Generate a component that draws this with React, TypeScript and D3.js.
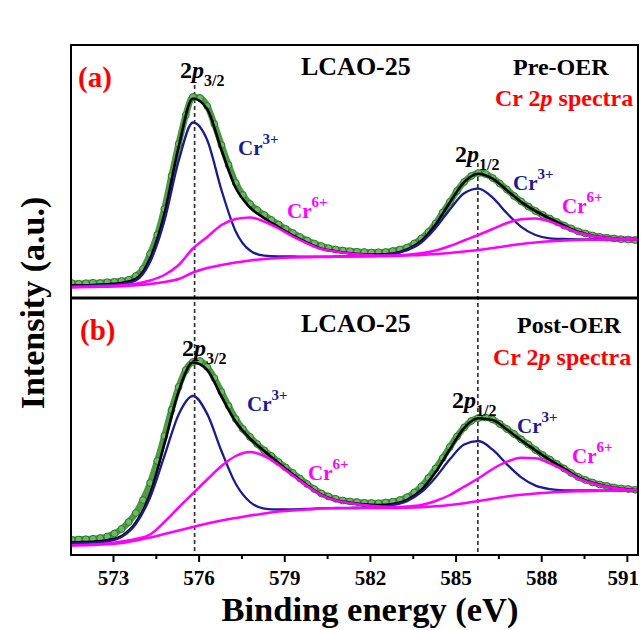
import React, { useEffect, useRef } from "react";
import * as d3 from "d3";

// binding energy grid of the fitted curves (eV)
const fitEnergy = [
  571.3, 571.8, 572.3, 572.8, 573.3, 573.8, 574.3, 574.8, 575.3, 575.8, 576.3, 576.8, 577.3, 577.8,
  578.3, 578.8, 579.3, 579.8, 580.3, 580.8, 581.3, 581.8, 582.3, 582.8, 583.3, 583.8, 584.3, 584.8,
  585.3, 585.8, 586.3, 586.8, 587.3, 587.8, 588.3, 588.8, 589.3, 589.8, 590.3, 590.8, 591.3, 591.8,
];

// (a) Pre-OER fit
const preBackground = [
  1.05, 1.07, 1.1, 1.13, 1.18, 1.27, 1.4, 1.6, 1.9, 2.55, 3.0, 3.3, 3.55, 3.75,
  3.9, 4.0, 4.05, 4.08, 4.1, 4.12, 4.14, 4.15, 4.17, 4.2, 4.25, 4.3, 4.4, 4.5,
  4.65, 4.8, 5.0, 5.2, 5.4, 5.55, 5.67, 5.75, 5.8, 5.83, 5.85, 5.87, 5.88, 5.9,
];
const preCr3 = [
  1.2, 1.22, 1.25, 1.3, 1.4, 1.75, 3.6, 7.7, 13.7, 17.55, 15.8, 10.8, 6.65, 4.75,
  4.23, 4.16, 4.15, 4.13, 4.13, 4.15, 4.17, 4.19, 4.27, 4.4, 4.77, 5.55, 7.0, 8.85,
  10.48, 10.93, 10.03, 8.47, 7.12, 6.3, 5.97, 5.9, 5.87, 5.86, 5.87, 5.88, 5.89, 5.9,
];
const preCr6 = [
  1.1, 1.12, 1.15, 1.2, 1.28, 1.42, 1.75, 2.3, 3.3, 4.95, 6.1, 7.3, 7.9, 8.05,
  7.65, 6.95, 6.15, 5.47, 4.9, 4.65, 4.45, 4.32, 4.25, 4.24, 4.33, 4.47, 4.75, 5.2,
  5.75, 6.3, 6.9, 7.5, 7.87, 7.95, 7.65, 7.1, 6.55, 6.2, 6.0, 5.9, 5.87, 5.87,
];
const preEnvelope = [
  1.25, 1.27, 1.3, 1.37, 1.5, 1.9, 3.95, 8.4, 15.1, 19.95, 18.9, 14.8, 11.0, 9.05,
  7.98, 7.1, 6.25, 5.53, 4.93, 4.68, 4.48, 4.36, 4.35, 4.44, 4.85, 5.72, 7.35, 9.55,
  11.58, 12.43, 11.93, 10.77, 9.59, 8.7, 7.95, 7.25, 6.62, 6.23, 6.02, 5.9, 5.89, 5.9,
];

// (b) Post-OER fit
const postBackground = [
  0.95, 0.97, 1.0, 1.07, 1.2, 1.45, 1.75, 2.1, 2.45, 2.8, 3.15, 3.45, 3.7, 3.95,
  4.15, 4.35, 4.45, 4.54, 4.65, 4.67, 4.68, 4.69, 4.69, 4.7, 4.72, 4.78, 4.87, 5.0,
  5.18, 5.4, 5.63, 5.85, 6.02, 6.15, 6.25, 6.32, 6.37, 6.4, 6.42, 6.44, 6.45, 6.45,
];
const postCr3 = [
  1.15, 1.18, 1.22, 1.35, 1.8, 3.1, 5.75, 9.88, 14.05, 15.9, 14.11, 10.4, 7.12, 5.3,
  4.64, 4.55, 4.57, 4.62, 4.68, 4.7, 4.72, 4.75, 4.82, 4.99, 5.39, 6.28, 7.76, 9.57,
  11.05, 11.4, 10.53, 9.07, 7.76, 6.94, 6.59, 6.47, 6.46, 6.45, 6.44, 6.45, 6.46, 6.46,
];
const postCr6 = [
  0.97, 1.0, 1.05, 1.15, 1.35, 1.6, 2.05, 3.3, 4.75, 6.15, 7.55, 8.9, 9.9, 10.3,
  9.9, 9.0, 7.95, 6.9, 6.0, 5.45, 5.2, 5.0, 4.87, 4.8, 4.85, 5.0, 5.4, 6.0,
  6.83, 7.67, 8.6, 9.33, 9.73, 9.67, 9.17, 8.5, 7.67, 7.17, 6.83, 6.6, 6.5, 6.48,
];
const postEnvelope = [
  1.25, 1.28, 1.33, 1.48, 1.9, 3.25, 6.1, 11.08, 16.35, 19.25, 18.51, 15.85, 13.32, 11.65,
  10.39, 9.2, 8.07, 6.98, 6.03, 5.48, 5.24, 5.06, 5.0, 5.09, 5.52, 6.5, 8.29, 10.57,
  12.7, 13.67, 13.5, 12.55, 11.47, 10.46, 9.51, 8.65, 7.76, 7.22, 6.86, 6.62, 6.5, 6.48,
];

// measured points
const dataEnergy = [
  571.3, 571.55, 571.8, 572.05, 572.3, 572.55, 572.8, 573.05, 573.3, 573.55, 573.8,
  574.05, 574.3, 574.55, 574.8, 575.05, 575.3, 575.55, 575.8, 576.05, 576.3, 576.55, 576.8,
  577.05, 577.3, 577.55, 577.8, 578.05, 578.3, 578.55, 578.8, 579.05, 579.3, 579.55, 579.8,
  580.05, 580.3, 580.55, 580.8, 581.05, 581.3, 581.55, 581.8, 582.05, 582.3, 582.55, 582.8,
  583.05, 583.3, 583.55, 583.8, 584.05, 584.3, 584.55, 584.8, 585.05, 585.3, 585.55, 585.8,
  586.05, 586.3, 586.55, 586.8, 587.05, 587.3, 587.55, 587.8, 588.05, 588.3, 588.55, 588.8,
  589.05, 589.3, 589.55, 589.8, 590.05, 590.3, 590.55, 590.8, 591.05, 591.3, 591.55, 591.8,
];
const preData = [
  1.45, 1.5, 1.42, 1.48, 1.52, 1.5, 1.58, 1.62, 1.7, 1.82, 2.2,
  2.9, 4.4, 6.3, 8.9, 12.2, 15.4, 18.3, 20.1, 20.0, 19.2, 17.4, 15.3,
  13.3, 11.5, 10.3, 9.4, 8.8, 8.3, 7.8, 7.35, 6.9, 6.5, 6.1, 5.75,
  5.45, 5.2, 4.98, 4.85, 4.75, 4.68, 4.62, 4.6, 4.55, 4.58, 4.6, 4.7,
  4.85, 5.05, 5.45, 5.95, 6.6, 7.45, 8.55, 9.6, 10.7, 11.6, 12.2, 12.5,
  12.4, 12.0, 11.45, 10.85, 10.2, 9.65, 9.15, 8.7, 8.3, 7.95, 7.6, 7.25,
  6.95, 6.65, 6.45, 6.25, 6.1, 6.02, 5.95, 5.88, 5.85, 5.8, 5.85, 5.82,
];
const postData = [
  1.5, 1.52, 1.55, 1.58, 1.62, 1.7, 1.85, 2.15, 2.6, 3.3, 4.2,
  5.5, 7.2, 9.4, 11.9, 14.5, 16.8, 18.5, 19.3, 19.4, 18.8, 17.7, 16.3,
  14.9, 13.6, 12.6, 11.8, 11.1, 10.45, 9.9, 9.3, 8.75, 8.2, 7.65, 7.1,
  6.6, 6.15, 5.85, 5.62, 5.45, 5.35, 5.3, 5.22, 5.2, 5.18, 5.25, 5.32,
  5.5, 5.78, 6.25, 6.85, 7.7, 8.65, 9.7, 10.8, 11.85, 12.75, 13.4, 13.7,
  13.75, 13.55, 13.1, 12.6, 12.1, 11.55, 11.05, 10.5, 10.0, 9.55, 9.1, 8.65,
  8.2, 7.8, 7.5, 7.25, 7.05, 6.9, 6.75, 6.65, 6.6, 6.52, 6.55, 6.5,
];

const majorTicks = [573, 576, 579, 582, 585, 588, 591];
const minorTicks = [574.5, 577.5, 580.5, 583.5, 586.5, 589.5];
const peakLines = [575.86, 585.78];

const FONT = "'Liberation Serif', 'Times New Roman', serif";
const NAVY = "#1c1c8c";
const MAG = "#ff00ff";
const RED = "#ff0000";

type Part = { t: string; italic?: boolean; sub?: boolean; sup?: boolean };
type Label = { x: number; y: number; size: number; color: string; parts: Part[] };

const orbital = (x: number, y: number, sub: string): Label => ({
  x, y, size: 24, color: "#000",
  parts: [{ t: "2" }, { t: "p", italic: true }, { t: sub, sub: true }],
});
const crLabel = (x: number, y: number, ion: string, color: string): Label => ({
  x, y, size: 21, color, parts: [{ t: "Cr" }, { t: ion, sup: true }],
});
const spectra = (x: number, y: number): Label => ({
  x, y, size: 24, color: RED, parts: [{ t: "Cr 2" }, { t: "p", italic: true }, { t: " spectra" }],
});

const labels: Label[] = [
  { x: 78, y: 87, size: 29, color: RED, parts: [{ t: "(a)" }] },
  { x: 301, y: 75, size: 26, color: "#000", parts: [{ t: "LCAO-25" }] },
  { x: 513, y: 75, size: 24, color: "#000", parts: [{ t: "Pre-OER" }] },
  spectra(495, 106),
  orbital(180, 78, "3/2"),
  orbital(455, 162, "1/2"),
  crLabel(238, 155, "3+", NAVY),
  crLabel(287, 218, "6+", MAG),
  crLabel(513, 190, "3+", NAVY),
  crLabel(562, 213, "6+", MAG),
  { x: 80, y: 340, size: 29, color: RED, parts: [{ t: "(b)" }] },
  { x: 301, y: 332, size: 26, color: "#000", parts: [{ t: "LCAO-25" }] },
  { x: 517, y: 333, size: 24, color: "#000", parts: [{ t: "Post-OER" }] },
  spectra(493, 365),
  orbital(182, 356, "3/2"),
  orbital(452, 408, "1/2"),
  crLabel(247, 411, "3+", NAVY),
  crLabel(308, 480, "6+", MAG),
  crLabel(517, 433, "3+", NAVY),
  crLabel(572, 463, "6+", MAG),
];

const App = () => {
  const ref = useRef<SVGSVGElement>(null);

  useEffect(() => {
    const svg = d3.select(ref.current);
    svg.selectAll("*").remove();

    const left = 71, right = 638;
    const x = d3.scaleLinear().domain([571.53, 591.39]).range([left, right]);

    const panels = [
      { key: "a", top: 45, bottom: 298, ymax: 25.3, bg: preBackground, cr3: preCr3, cr6: preCr6, env: preEnvelope, data: preData },
      { key: "b", top: 298, bottom: 555, ymax: 25.7, bg: postBackground, cr3: postCr3, cr6: postCr6, env: postEnvelope, data: postData },
    ];

    // dashed peak markers
    const dashTops = [85, 163];
    peakLines.forEach((e, i) => {
      svg.append("line")
        .attr("x1", x(e)).attr("x2", x(e))
        .attr("y1", dashTops[i]).attr("y2", 555)
        .attr("stroke", "#333").attr("stroke-width", 1.7)
        .attr("stroke-dasharray", "4,3");
    });

    panels.forEach((p) => {
      const y = d3.scaleLinear().domain([0, p.ymax]).range([p.bottom, p.top]);
      const clipId = `clip-${p.key}`;
      svg.append("clipPath").attr("id", clipId)
        .append("rect")
        .attr("x", left).attr("y", p.top)
        .attr("width", right - left).attr("height", p.bottom - p.top);
      const g = svg.append("g").attr("clip-path", `url(#${clipId})`);

      const pts: [number, number][] = dataEnergy.map((e, j) => [e, p.data[j]]);
      const dataLine = d3.line<[number, number]>()
        .x((d) => x(d[0])).y((d) => y(d[1]))
        .curve(d3.curveMonotoneX);
      g.append("path")
        .attr("d", dataLine(pts))
        .attr("fill", "none")
        .attr("stroke", "#4e9a46")
        .attr("stroke-width", 6.5)
        .attr("stroke-linejoin", "round");
      g.selectAll("circle")
        .data(pts)
        .join("circle")
        .attr("cx", (d) => x(d[0]))
        .attr("cy", (d) => y(d[1]))
        .attr("r", 3.4)
        .attr("fill", "#6fb866")
        .attr("stroke", "#2a7a2a")
        .attr("stroke-width", 1);

      const fit = d3.line<number>()
        .x((d, j) => x(fitEnergy[j])).y((d) => y(d))
        .curve(d3.curveMonotoneX);
      const draw = (vals: number[], color: string, w: number) =>
        g.append("path")
          .attr("d", fit(vals))
          .attr("fill", "none")
          .attr("stroke", color)
          .attr("stroke-width", w)
          .attr("stroke-linejoin", "round");
      draw(p.env, "#000", 2.6);
      draw(p.cr3, NAVY, 2.3);
      draw(p.cr6, MAG, 2.5);
      draw(p.bg, MAG, 2.5);
    });

    // frame
    svg.append("rect")
      .attr("x", left).attr("y", 45)
      .attr("width", right - left).attr("height", 555 - 45)
      .attr("fill", "none").attr("stroke", "#000").attr("stroke-width", 2);
    svg.append("line")
      .attr("x1", left).attr("x2", right).attr("y1", 298).attr("y2", 298)
      .attr("stroke", "#000").attr("stroke-width", 3);

    // bottom axis
    const major = svg.append("g")
      .attr("transform", "translate(0,555)")
      .call(d3.axisBottom(x).tickValues(majorTicks).tickSize(7).tickPadding(8).tickFormat(d3.format("d")));
    major.select(".domain").remove();
    major.selectAll("line").attr("stroke-width", 2);
    major.selectAll("text")
      .attr("font-family", FONT).attr("font-weight", "bold")
      .attr("font-size", 21).attr("fill", "#000")
      .attr("dx", (d) => (d === 591 ? -4 : 0));
    const minor = svg.append("g")
      .attr("transform", "translate(0,555)")
      .call(d3.axisBottom(x).tickValues(minorTicks).tickSize(4).tickFormat(() => ""));
    minor.select(".domain").remove();
    minor.selectAll("line").attr("stroke-width", 2);

    // axis titles
    svg.append("text")
      .attr("x", 370).attr("y", 621)
      .attr("text-anchor", "middle")
      .attr("font-family", FONT).attr("font-weight", "bold").attr("font-size", 34.5)
      .text("Binding energy (eV)");
    svg.append("text")
      .attr("transform", "translate(44,303) rotate(-90)")
      .attr("text-anchor", "middle")
      .attr("font-family", FONT).attr("font-weight", "bold").attr("font-size", 34)
      .text("Intensity (a.u.)");

    // annotations
    labels.forEach((l) => {
      const t = svg.append("text")
        .attr("x", l.x).attr("y", l.y)
        .attr("font-family", FONT).attr("font-weight", "bold")
        .attr("font-size", l.size).attr("fill", l.color)
        .style("white-space", "pre");
      l.parts.forEach((pt) => {
        const s = t.append("tspan").text(pt.t);
        if (pt.italic) s.attr("font-style", "italic");
        if (pt.sub) s.attr("font-size", 16).attr("dy", 8);
        if (pt.sup) s.attr("font-size", 15).attr("dy", -11);
      });
    });
  }, []);

  return (
    <svg
      ref={ref}
      width={641}
      height={630}
      style={{ position: "absolute", left: 0, top: 0, background: "#fff" }}
    />
  );
};

export default App;
